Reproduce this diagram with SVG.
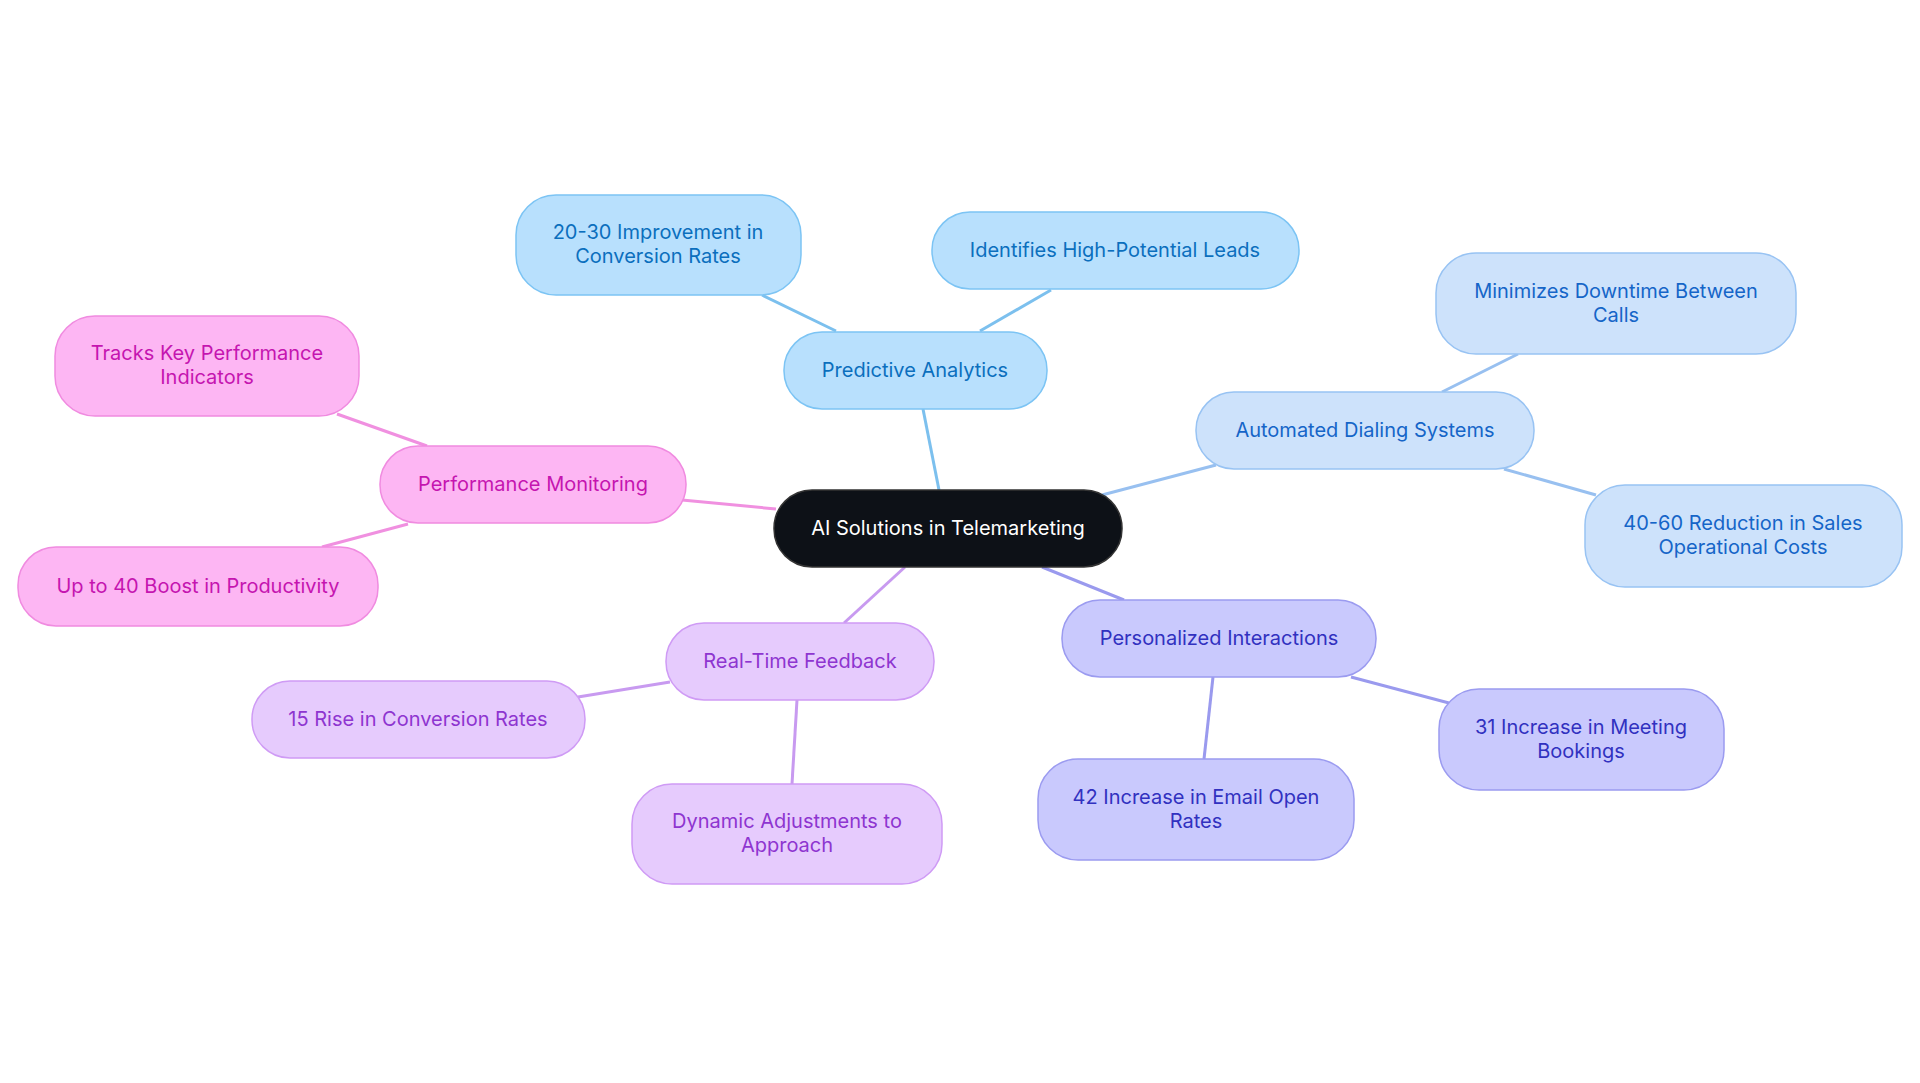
<svg xmlns="http://www.w3.org/2000/svg" width="1920" height="1083" viewBox="0 0 1920 1083">
<style>
text{font-family:Inter,"Noto Sans",sans-serif;font-size:20px;text-anchor:middle;dominant-baseline:central}
rect{stroke-width:1.5}
.c line{stroke-width:3}
.a rect{fill:#b8e0fd;stroke:#7cc4f4}.a text{fill:#0b6fbd}
.b rect{fill:#cde2fb;stroke:#98c3f3}.b text{fill:#1565c8}
.p rect{fill:#c9c9fd;stroke:#9b9bf0}.p text{fill:#3131c0}
.l rect{fill:#e6cbfd;stroke:#cf9bf5}.l text{fill:#8e35d0}
.k rect{fill:#fdb6f3;stroke:#f08be0}.k text{fill:#c515b0}
</style>
<rect width="1920" height="1083" fill="#fff"/>
<g class="c">
<line x1="939" y1="490" x2="923" y2="409" stroke="#7cc0ee"/>
<line x1="836" y1="331" x2="762" y2="295" stroke="#7cc0ee"/>
<line x1="980" y1="331" x2="1051" y2="290" stroke="#7cc0ee"/>
<line x1="1102" y1="495" x2="1216" y2="465" stroke="#98c0f0"/>
<line x1="1442" y1="392" x2="1518" y2="354" stroke="#98c0f0"/>
<line x1="1504" y1="469" x2="1596" y2="495" stroke="#98c0f0"/>
<line x1="1042" y1="567" x2="1124" y2="600" stroke="#9a9aee"/>
<line x1="1351" y1="677" x2="1449" y2="703" stroke="#9a9aee"/>
<line x1="1213" y1="677" x2="1204" y2="759" stroke="#9a9aee"/>
<line x1="905" y1="567" x2="844" y2="623" stroke="#c89af0"/>
<line x1="670" y1="682" x2="578" y2="697" stroke="#c89af0"/>
<line x1="797" y1="700" x2="792" y2="784" stroke="#c89af0"/>
<line x1="776" y1="509" x2="682" y2="500" stroke="#f090e0"/>
<line x1="427" y1="446" x2="337" y2="414" stroke="#f090e0"/>
<line x1="408" y1="524" x2="322" y2="547" stroke="#f090e0"/>
</g>
<g id="center"><rect x="774" y="490" width="348" height="77" rx="38" fill="#0d1117" stroke="#333"/><text x="948" y="528" fill="#fff">AI Solutions in Telemarketing</text></g>
<g id="pa" class="a"><rect x="784" y="332" width="263" height="77" rx="38"/><text x="915" y="370">Predictive Analytics</text></g>
<g id="pa1" class="a"><rect x="516" y="195" width="285" height="100" rx="40"/><text x="658" y="232">20-30 Improvement in</text><text x="658" y="256">Conversion Rates</text></g>
<g id="pa2" class="a"><rect x="932" y="212" width="367" height="77" rx="38"/><text x="1115" y="250">Identifies High-Potential Leads</text></g>
<g id="ad" class="b"><rect x="1196" y="392" width="338" height="77" rx="38"/><text x="1365" y="430">Automated Dialing Systems</text></g>
<g id="ad1" class="b"><rect x="1436" y="253" width="360" height="101" rx="40"/><text x="1616" y="291">Minimizes Downtime Between</text><text x="1616" y="315">Calls</text></g>
<g id="ad2" class="b"><rect x="1585" y="485" width="317" height="102" rx="40"/><text x="1743" y="523">40-60 Reduction in Sales</text><text x="1743" y="547">Operational Costs</text></g>
<g id="pi" class="p"><rect x="1062" y="600" width="314" height="77" rx="38"/><text x="1219" y="638">Personalized Interactions</text></g>
<g id="pi1" class="p"><rect x="1439" y="689" width="285" height="101" rx="40"/><text x="1581" y="727">31 Increase in Meeting</text><text x="1581" y="751">Bookings</text></g>
<g id="pi2" class="p"><rect x="1038" y="759" width="316" height="101" rx="40"/><text x="1196" y="797">42 Increase in Email Open</text><text x="1196" y="821">Rates</text></g>
<g id="rt" class="l"><rect x="666" y="623" width="268" height="77" rx="38"/><text x="800" y="661">Real-Time Feedback</text></g>
<g id="rt1" class="l"><rect x="252" y="681" width="333" height="77" rx="38"/><text x="418" y="719">15 Rise in Conversion Rates</text></g>
<g id="rt2" class="l"><rect x="632" y="784" width="310" height="100" rx="40"/><text x="787" y="821">Dynamic Adjustments to</text><text x="787" y="845">Approach</text></g>
<g id="pm" class="k"><rect x="380" y="446" width="306" height="77" rx="38"/><text x="533" y="484">Performance Monitoring</text></g>
<g id="pm1" class="k"><rect x="55" y="316" width="304" height="100" rx="40"/><text x="207" y="353">Tracks Key Performance</text><text x="207" y="377">Indicators</text></g>
<g id="pm2" class="k"><rect x="18" y="547" width="360" height="79" rx="38"/><text x="198" y="586">Up to 40 Boost in Productivity</text></g>
</svg>
